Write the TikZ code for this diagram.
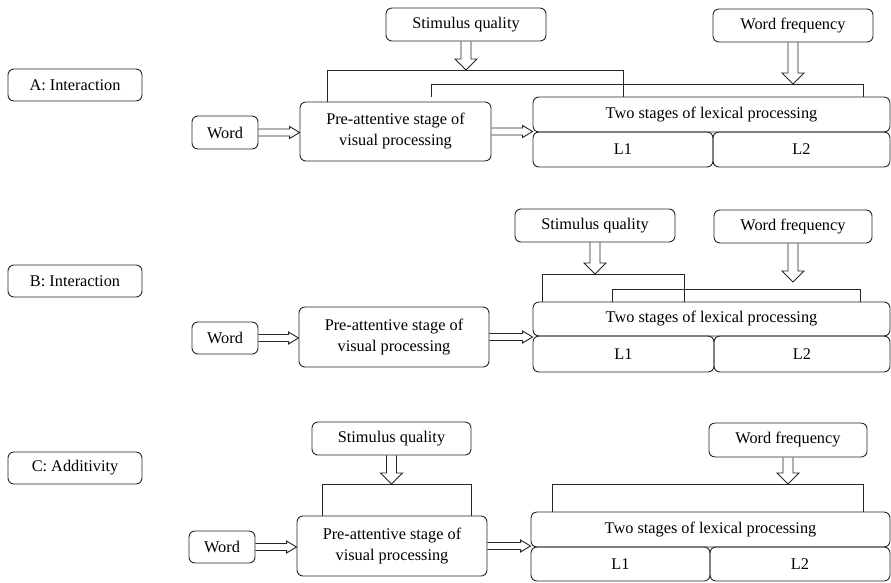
\documentclass[tikz,border=0pt]{standalone}
\usepackage{fontspec}
\setmainfont{Liberation Serif}
\usetikzlibrary{calc}
\begin{document}
\begin{tikzpicture}[x=1pt,y=-1pt,
  box/.style={draw=black!85, line width=0.9pt, rounded corners=6pt, inner sep=0pt,
    font=\fontsize{16.3}{21}\selectfont, align=center},
  brk/.style={draw=black!85, line width=1pt},
  harr/.style={draw=black!85, line width=0.9pt, to path={
    let \p1=(\tikztostart), \p2=(\tikztotarget) in
    (\x1,\y1+3.5pt) -- (\x2-10pt,\y1+3.5pt) -- (\x2-10pt,\y1+6pt) -- (\x2,\y1)
    -- (\x2-10pt,\y1-6pt) -- (\x2-10pt,\y1-3.5pt) -- (\x1,\y1-3.5pt)}},
  varr/.style={draw=black!85, line width=0.9pt, to path={
    let \p1=(\tikztostart), \p2=(\tikztotarget) in
    (\x1-5pt,\y1) -- (\x1-5pt,\y2+11pt) -- (\x1-11pt,\y2+11pt) -- (\x1,\y2)
    -- (\x1+11pt,\y2+11pt) -- (\x1+5pt,\y2+11pt) -- (\x1+5pt,\y1)}}
]
\useasboundingbox (0,0) rectangle (891,582);

% ---------- Panel A ----------
\node[box, minimum width=134pt, minimum height=32pt] (labA) at (75,85) {A: Interaction};
\node[box, minimum width=160pt, minimum height=33pt] (sqA) at (466,24.5) {Stimulus quality};
\node[box, minimum width=160pt, minimum height=33pt] (wfA) at (793,25.5) {Word frequency};
\node[box, minimum width=66pt, minimum height=33pt] (wordA) at (225,132.5) {Word};
\node[box, minimum width=191pt, minimum height=59pt] (preA) at (395.5,131.5) {Pre-attentive stage of\\visual processing};
\node[box, minimum width=357pt, minimum height=35pt] (twoA) at (711.5,114.5) {Two stages of lexical processing};
\node[box, minimum width=180pt, minimum height=35pt] (l1A) at (623,149.5) {L1};
\node[box, minimum width=177pt, minimum height=35pt] (l2A) at (801.5,149.5) {L2};
\coordinate (bA1l) at (327,70);
\coordinate (bA1r) at (623,70);
\coordinate (bA2l) at (431,84);
\coordinate (bA2r) at (863,84);
\draw[brk] (preA.north -| bA1l) -- (bA1l) -- (bA1r) -- (twoA.north -| bA1r);
\draw[brk] (twoA.north -| bA2l) -- (bA2l) -- (bA2r) -- (twoA.north -| bA2r);
\draw[varr] (sqA.south) to (sqA.south |- bA1l);
\draw[varr] (wfA.south) to (wfA.south |- bA2l);
\draw[harr] (wordA.east) to (preA.west);
\draw[harr] (preA.east) to (twoA.south west);

% ---------- Panel B ----------
\node[box, minimum width=134pt, minimum height=32pt] (labB) at (75,281) {B: Interaction};
\node[box, minimum width=160pt, minimum height=33pt] (sqB) at (595,225.5) {Stimulus quality};
\node[box, minimum width=158pt, minimum height=33pt] (wfB) at (793,226.5) {Word frequency};
\node[box, minimum width=66pt, minimum height=32pt] (wordB) at (225,338) {Word};
\node[box, minimum width=190pt, minimum height=60pt] (preB) at (394,337) {Pre-attentive stage of\\visual processing};
\node[box, minimum width=357pt, minimum height=34pt] (twoB) at (711.5,319) {Two stages of lexical processing};
\node[box, minimum width=181pt, minimum height=36pt] (l1B) at (623.5,354) {L1};
\node[box, minimum width=176pt, minimum height=36pt] (l2B) at (802,354) {L2};
\coordinate (bB1l) at (542,274);
\coordinate (bB1r) at (684,274);
\coordinate (bB2l) at (612,289);
\coordinate (bB2r) at (860,289);
\coordinate (tipB) at (793,282);
\draw[brk] (twoB.north -| bB1l) -- (bB1l) -- (bB1r) -- (twoB.north -| bB1r);
\draw[brk] (twoB.north -| bB2l) -- (bB2l) -- (bB2r) -- (twoB.north -| bB2r);
\draw[varr] (sqB.south) to (sqB.south |- bB1l);
\draw[varr] (wfB.south) to (wfB.south |- tipB);
\draw[harr] (wordB.east) to (preB.west);
\draw[harr] (preB.east) to (twoB.south west);

% ---------- Panel C ----------
\node[box, minimum width=134pt, minimum height=32pt] (labC) at (75,468) {C: Additivity};
\node[box, minimum width=159pt, minimum height=33pt] (sqC) at (391.5,438.5) {Stimulus quality};
\node[box, minimum width=158pt, minimum height=34pt] (wfC) at (788,440) {Word frequency};
\node[box, minimum width=66pt, minimum height=32pt] (wordC) at (222,547) {Word};
\node[box, minimum width=190pt, minimum height=60pt] (preC) at (392,546) {Pre-attentive stage of\\visual processing};
\node[box, minimum width=359pt, minimum height=35pt] (twoC) at (710.5,529.5) {Two stages of lexical processing};
\node[box, minimum width=179pt, minimum height=34pt] (l1C) at (620.5,564) {L1};
\node[box, minimum width=180pt, minimum height=34pt] (l2C) at (800,564) {L2};
\coordinate (bC1l) at (322,484);
\coordinate (bC1r) at (471,484);
\coordinate (bC2l) at (552,484);
\coordinate (bC2r) at (863,484);
\draw[brk] (preC.north -| bC1l) -- (bC1l) -- (bC1r) -- (preC.north -| bC1r);
\draw[brk] (twoC.north -| bC2l) -- (bC2l) -- (bC2r) -- (twoC.north -| bC2r);
\draw[varr] (sqC.south) to (sqC.south |- bC1l);
\draw[varr] (wfC.south) to (wfC.south |- bC2l);
\draw[harr] (wordC.east) to (preC.west);
\draw[harr] (preC.east) to (twoC.south west);
\end{tikzpicture}
\end{document}
